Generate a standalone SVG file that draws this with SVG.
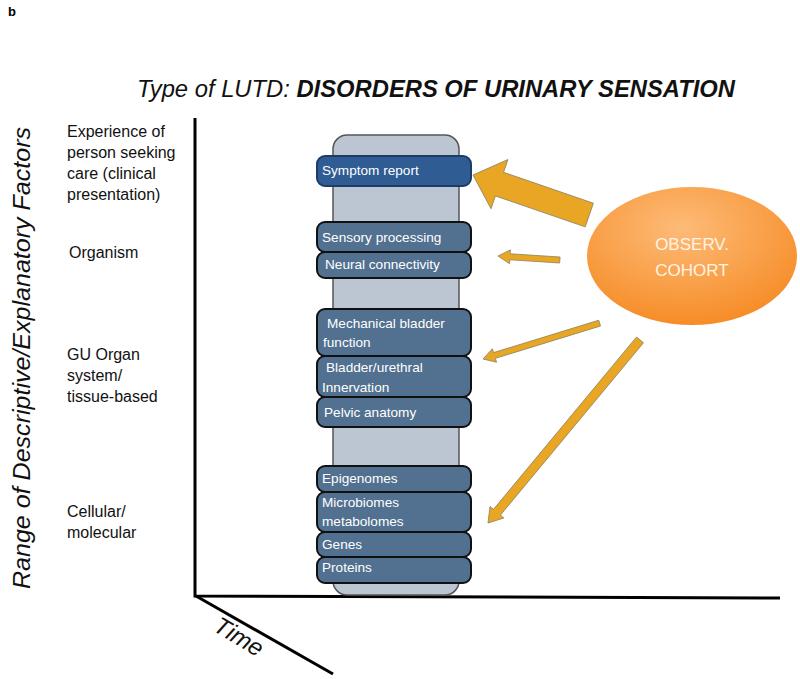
<svg xmlns="http://www.w3.org/2000/svg" width="800" height="679" viewBox="0 0 800 679">
<defs>
<radialGradient id="og" cx="0.45" cy="0.3" r="0.8">
<stop offset="0" stop-color="#fdbb78"/>
<stop offset="1" stop-color="#f5861c"/>
</radialGradient>
<style>
.lbl{font-family:"Liberation Sans",Arial,sans-serif;font-size:16px;fill:#111}
.box rect{fill:#52708f;stroke:#111;stroke-width:2}
.box text{font-family:"Liberation Sans",Arial,sans-serif;font-size:13.6px;fill:#fff}
.arr{fill:#e8a624;stroke:#8f8660;stroke-width:0.8}
.axis{stroke:#000;stroke-width:3;fill:none}
</style>
</defs>
<rect width="800" height="679" fill="#fff"/>
<text x="8" y="16" font-family="Liberation Sans,Arial,sans-serif" font-size="13" font-weight="bold">b</text>
<text x="137" y="97" font-family="Liberation Sans,Arial,sans-serif" font-size="24" font-style="italic" fill="#111" textLength="598" lengthAdjust="spacingAndGlyphs">Type of LUTD: <tspan font-weight="bold">DISORDERS OF URINARY SENSATION</tspan></text>
<text transform="translate(30,358) rotate(-90)" text-anchor="middle" font-family="Liberation Sans,Arial,sans-serif" font-size="24" font-style="italic" fill="#111" textLength="462" lengthAdjust="spacingAndGlyphs">Range of Descriptive/Explanatory Factors</text>
<g id="axes">
<path class="axis" d="M195,118 L195,596 L780,598"/>
<path class="axis" d="M196,596 L333,674"/>
</g>
<text transform="translate(212,630) rotate(31)" font-family="Liberation Sans,Arial,sans-serif" font-size="24" font-style="italic" fill="#111">Time</text>
<g id="levels">
<text class="lbl" x="67" y="137">Experience of</text>
<text class="lbl" x="67" y="158">person seeking</text>
<text class="lbl" x="67" y="179">care (clinical</text>
<text class="lbl" x="67" y="200">presentation)</text>
<text class="lbl" x="69" y="258">Organism</text>
<text class="lbl" x="67" y="360">GU Organ</text>
<text class="lbl" x="67" y="381">system/</text>
<text class="lbl" x="67" y="402">tissue-based</text>
<text class="lbl" x="67" y="517">Cellular/</text>
<text class="lbl" x="67" y="538">molecular</text>
</g>
<g id="column"><rect x="333" y="135" width="126" height="460" rx="14" fill="#bcc6d3" stroke="#555" stroke-width="1.5"/></g>
<g id="symptom" class="box"><rect x="317" y="156" width="154" height="30" rx="8" style="fill:#2f5c93;stroke:#1e3d66"/><text x="322" y="175">Symptom report</text></g>
<g id="sensory" class="box"><rect x="317" y="222" width="154" height="30" rx="8"/><text x="322" y="242">Sensory processing</text></g>
<g id="neural" class="box"><rect x="317" y="252" width="154" height="26" rx="8"/><text x="325" y="269">Neural connectivity</text></g>
<g id="mechanical" class="box"><rect x="317" y="309" width="154" height="47" rx="8"/><text x="327" y="328">Mechanical bladder</text><text x="323" y="347">function</text></g>
<g id="innervation" class="box"><rect x="317" y="356" width="154" height="41" rx="8"/><text x="326" y="372">Bladder/urethral</text><text x="322" y="392">Innervation</text></g>
<g id="pelvic" class="box"><rect x="317" y="397" width="154" height="30" rx="8"/><text x="324" y="417">Pelvic anatomy</text></g>
<g id="epigenomes" class="box"><rect x="317" y="466" width="154" height="26" rx="8"/><text x="322" y="483">Epigenomes</text></g>
<g id="microbiomes" class="box"><rect x="317" y="492" width="154" height="40" rx="8"/><text x="322" y="507">Microbiomes</text><text x="322" y="526">metabolomes</text></g>
<g id="genes" class="box"><rect x="317" y="532" width="154" height="25" rx="8"/><text x="322" y="549">Genes</text></g>
<g id="proteins" class="box"><rect x="317" y="557" width="154" height="26" rx="8"/><text x="322" y="572">Proteins</text></g>
<g id="cohort">
<ellipse cx="692" cy="256" rx="105" ry="69" fill="url(#og)"/>
<text x="692" y="250" text-anchor="middle" font-family="Liberation Sans,Arial,sans-serif" font-size="17" fill="#fff3e6">OBSERV.</text>
<text x="692" y="276" text-anchor="middle" font-family="Liberation Sans,Arial,sans-serif" font-size="17" fill="#fff3e6">COHORT</text>
</g>
<g id="connectors">
<path class="arr" transform="translate(473,175) rotate(19)" d="M0,0 L28,-26 L28,-12.5 L123,-12.5 L123,12.5 L28,12.5 L28,26 Z"/>
<path class="arr" transform="translate(498,256) rotate(3.7)" d="M0,0 L12,-7 L12,-3 L62,-3 L62,3 L12,3 L12,7 Z"/>
<path class="arr" transform="translate(483,359) rotate(-17.1)" d="M0,0 L12,-7 L12,-3 L122,-3 L122,3 L12,3 L12,7 Z"/>
<path class="arr" transform="translate(488,523) rotate(-50.3)" d="M0,0 L14,-9 L14,-4.5 L238,-4.5 L238,4.5 L14,4.5 L14,9 Z"/>
</g>
</svg>
